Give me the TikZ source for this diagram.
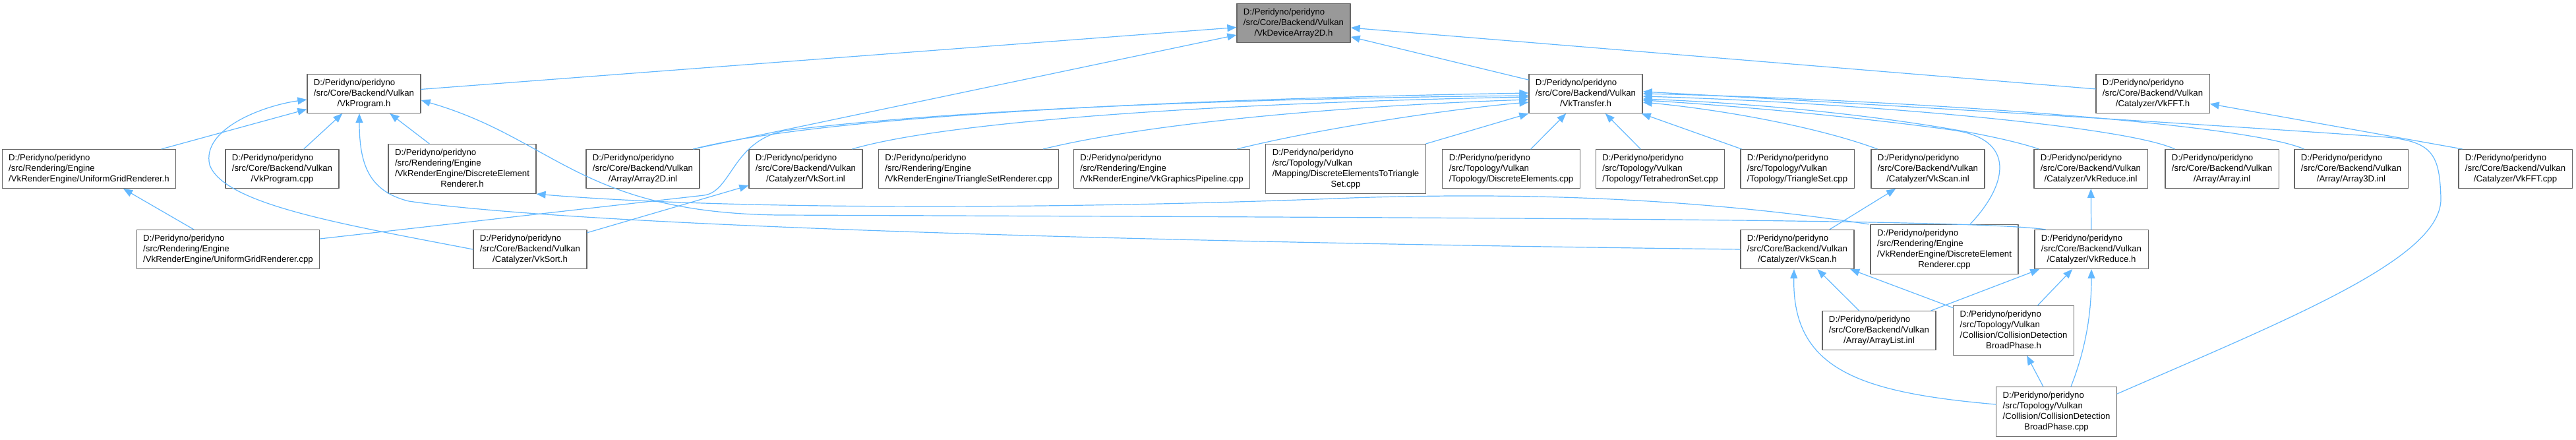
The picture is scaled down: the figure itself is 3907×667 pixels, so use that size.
\documentclass[tikz,border=0pt]{standalone}
\usepackage{fontspec}
\setmainfont{Liberation Sans}
\usepackage{tikz}
\usetikzlibrary{arrows.meta}

\definecolor{edgeblue}{HTML}{63B8FF}
\definecolor{boxline}{HTML}{666666}
\definecolor{focusfill}{HTML}{999999}
\newcommand{\fname}[1]{\begin{tabular}{@{}l@{}}#1\end{tabular}}
\newcommand{\lastrow}[1]{\multicolumn{1}{@{}c@{}}{#1}}

\begin{document}
\begin{tikzpicture}[
			x=0.5pt, y=-0.5pt,
			every node/.style={font=\fontsize{6.6}{8}\selectfont},
			file/.style={draw=boxline, fill=white, line width=0.6pt, rectangle, inner xsep=5pt, inner ysep=2.75pt},
			focus/.style={file, fill=focusfill},
			dep/.style={draw=edgeblue, line width=0.6pt, -{Triangle[length=7pt, width=5.5pt]}},
			line cap=round,
			line join=round
			]
			\useasboundingbox (0,0) rectangle (3907,667);
			
			% top file
			\node[focus] (n0) at (1962,35) {\fname{D:/Peridyno/peridyno\\ /src/Core/Backend/Vulkan\\ \lastrow{/VkDeviceArray2D.h}}};
			
			\node[file] (prog) at (552,142) {\fname{D:/Peridyno/peridyno\\ /src/Core/Backend/Vulkan\\ \lastrow{/VkProgram.h}}};
			\node[file] (xfer) at (2405,142) {\fname{D:/Peridyno/peridyno\\ /src/Core/Backend/Vulkan\\ \lastrow{/VkTransfer.h}}};
			\node[file] (fft) at (3265,142) {\fname{D:/Peridyno/peridyno\\ /src/Core/Backend/Vulkan\\ \lastrow{/Catalyzer/VkFFT.h}}};
			
			\node[file] (ugrh) at (135,256) {\fname{D:/Peridyno/peridyno\\ /src/Rendering/Engine\\ \lastrow{/VkRenderEngine/UniformGridRenderer.h}}};
			\node[file] (progcpp) at (428,256) {\fname{D:/Peridyno/peridyno\\ /src/Core/Backend/Vulkan\\ \lastrow{/VkProgram.cpp}}};
			\node[file] (derh) at (701,256) {\fname{D:/Peridyno/peridyno\\ /src/Rendering/Engine\\ /VkRenderEngine/DiscreteElement\\ \lastrow{Renderer.h}}};
			\node[file] (arr2d) at (975,256) {\fname{D:/Peridyno/peridyno\\ /src/Core/Backend/Vulkan\\ \lastrow{/Array/Array2D.inl}}};
			\node[file] (sortinl) at (1222,256) {\fname{D:/Peridyno/peridyno\\ /src/Core/Backend/Vulkan\\ \lastrow{/Catalyzer/VkSort.inl}}};
			\node[file] (trisetr) at (1469,256) {\fname{D:/Peridyno/peridyno\\ /src/Rendering/Engine\\ \lastrow{/VkRenderEngine/TriangleSetRenderer.cpp}}};
			\node[file] (gpipe) at (1762,256) {\fname{D:/Peridyno/peridyno\\ /src/Rendering/Engine\\ \lastrow{/VkRenderEngine/VkGraphicsPipeline.cpp}}};
			\node[file] (de2ts) at (2041,256) {\fname{D:/Peridyno/peridyno\\ /src/Topology/Vulkan\\ /Mapping/DiscreteElementsToTriangle\\ \lastrow{Set.cpp}}};
			\node[file] (decpp) at (2292,256) {\fname{D:/Peridyno/peridyno\\ /src/Topology/Vulkan\\ \lastrow{/Topology/DiscreteElements.cpp}}};
			\node[file] (tetcpp) at (2518,256) {\fname{D:/Peridyno/peridyno\\ /src/Topology/Vulkan\\ \lastrow{/Topology/TetrahedronSet.cpp}}};
			\node[file] (tricpp) at (2726,256) {\fname{D:/Peridyno/peridyno\\ /src/Topology/Vulkan\\ \lastrow{/Topology/TriangleSet.cpp}}};
			\node[file] (scaninl) at (2924,256) {\fname{D:/Peridyno/peridyno\\ /src/Core/Backend/Vulkan\\ \lastrow{/Catalyzer/VkScan.inl}}};
			\node[file] (reduceinl) at (3171,256) {\fname{D:/Peridyno/peridyno\\ /src/Core/Backend/Vulkan\\ \lastrow{/Catalyzer/VkReduce.inl}}};
			\node[file] (arrinl) at (3370,256) {\fname{D:/Peridyno/peridyno\\ /src/Core/Backend/Vulkan\\ \lastrow{/Array/Array.inl}}};
			\node[file] (arr3d) at (3566,256) {\fname{D:/Peridyno/peridyno\\ /src/Core/Backend/Vulkan\\ \lastrow{/Array/Array3D.inl}}};
			\node[file] (fftcpp) at (3815,256) {\fname{D:/Peridyno/peridyno\\ /src/Core/Backend/Vulkan\\ \lastrow{/Catalyzer/VkFFT.cpp}}};
			
			\node[file] (ugrcpp) at (346,378) {\fname{D:/Peridyno/peridyno\\ /src/Rendering/Engine\\ \lastrow{/VkRenderEngine/UniformGridRenderer.cpp}}};
			\node[file] (sorth) at (804,378) {\fname{D:/Peridyno/peridyno\\ /src/Core/Backend/Vulkan\\ \lastrow{/Catalyzer/VkSort.h}}};
			\node[file] (scanh) at (2726,378) {\fname{D:/Peridyno/peridyno\\ /src/Core/Backend/Vulkan\\ \lastrow{/Catalyzer/VkScan.h}}};
			\node[file] (dercpp) at (2949,378) {\fname{D:/Peridyno/peridyno\\ /src/Rendering/Engine\\ /VkRenderEngine/DiscreteElement\\ \lastrow{Renderer.cpp}}};
			\node[file] (reduceh) at (3172,378) {\fname{D:/Peridyno/peridyno\\ /src/Core/Backend/Vulkan\\ \lastrow{/Catalyzer/VkReduce.h}}};
			
			\node[file] (arrlist) at (2850,501) {\fname{D:/Peridyno/peridyno\\ /src/Core/Backend/Vulkan\\ \lastrow{/Array/ArrayList.inl}}};
			\node[file] (cdbph) at (3054,501) {\fname{D:/Peridyno/peridyno\\ /src/Topology/Vulkan\\ /Collision/CollisionDetection\\ \lastrow{BroadPhase.h}}};
			
			\node[file] (bpcpp) at (3119,624) {\fname{D:/Peridyno/peridyno\\ /src/Topology/Vulkan\\ /Collision/CollisionDetection\\ \lastrow{BroadPhase.cpp}}};
			
			% includes of VkDeviceArray2D.h
			\draw[dep] (prog) -- (n0);
			\draw[dep] ([xshift=-5pt]arr2d.north east) -- (n0);
			\draw[dep] (xfer) -- (n0);
			\draw[dep] (fft) -- (n0);
			
			% includes of VkProgram.h
			\draw[dep] (ugrh) -- (prog);
			\draw[dep] (progcpp) -- (prog);
			\draw[dep] (derh) -- (prog);
			\draw[dep] (sorth.west) .. controls (520,340) and (340,310) .. (318,250) .. controls (305,195) and (400,160) .. ([yshift=-4.5pt]prog.west);
			\draw[dep] (scanh.west) .. controls (1800,368) and (900,345) .. (620,305) .. controls (560,290) and (545,250) .. ([xshift=-3.5pt]prog.south);
			\draw[dep] ([xshift=8.5pt]reduceh.north west) .. controls (3000,332) and (2200,330) .. (1180,326) .. controls (880,322) and (840,210) .. ([yshift=-5pt]prog.east);
			
			% includes of VkTransfer.h
			\draw[dep] ([yshift=8pt]ugrcpp.east) -- (1068,296) .. controls (1110,290) and (1110,215) .. (1190,198) .. controls (1500,160) and (2000,148) .. ([yshift=-1.5pt]xfer.west);
			\draw[dep] ([xshift=-5pt]arr2d.north east) .. controls (1250,175) and (1800,150) .. ([yshift=0.5pt]xfer.west);
			\draw[dep] ([xshift=-8pt]sortinl.north east) .. controls (1450,180) and (1900,155) .. ([yshift=-2.5pt]xfer.west);
			\draw[dep] ([xshift=-12pt]trisetr.north east) .. controls (1750,185) and (2050,160) .. ([yshift=-4.5pt]xfer.west);
			\draw[dep] ([xshift=-10pt]gpipe.north east) .. controls (2000,195) and (2200,165) .. ([yshift=-6.5pt]xfer.west);
			\draw[dep] (de2ts.north east) -- (xfer.south west);
			\draw[dep] (decpp) -- (xfer);
			\draw[dep] (tetcpp) -- (xfer);
			\draw[dep] (tricpp) -- (xfer);
			\draw[dep] ([xshift=5pt]scaninl.north west) .. controls (2750,190) and (2600,165) .. ([yshift=-6.5pt]xfer.east);
			\draw[dep] ([xshift=4pt]reduceinl.north west) .. controls (3000,195) and (2750,160) .. ([yshift=-4pt]xfer.east);
			\draw[dep] ([xshift=7.5pt]arrinl.north west) .. controls (3220,190) and (2800,155) .. ([yshift=-2pt]xfer.east);
			\draw[dep] ([xshift=7.5pt]arr3d.north west) .. controls (3400,185) and (2850,150) .. (xfer.east);
			\draw[dep] ([xshift=19.5pt]dercpp.north) .. controls (3045,280) and (3060,210) .. (2960,197) .. controls (2800,175) and (2600,158) .. ([yshift=-5pt]xfer.east);
			\draw[dep] ([yshift=13.5pt]bpcpp.east) .. controls (3480,480) and (3705,390) .. (3702,300) .. controls (3700,235) and (3690,215) .. (3620,208) .. controls (3300,185) and (2700,150) .. ([yshift=1.5pt]xfer.east);
			
			% remaining includes
			\draw[dep] ([xshift=3pt]fftcpp.north west) -- (fft);
			\draw[dep] (ugrcpp) -- (ugrh);
			\draw[dep] ([xshift=-1pt]dercpp.north west) .. controls (2600,305) and (2350,290) .. (2050,300) .. controls (1600,318) and (1100,318) .. (derh.south east);
			\draw[dep] (sorth) -- (sortinl);
			\draw[dep] (scanh) -- (scaninl);
			\draw[dep] (reduceh) -- (reduceinl);
			\draw[dep] (arrlist) -- (scanh);
			\draw[dep] (arrlist) -- (reduceh);
			\draw[dep] (cdbph) -- (scanh);
			\draw[dep] (cdbph) -- (reduceh);
			\draw[dep] ([yshift=5.5pt]bpcpp.west) .. controls (2820,595) and (2718,560) .. ([xshift=-2.5pt]scanh.south);
			\draw[dep] (bpcpp) -- (cdbph);
			\draw[dep] ([xshift=11pt]bpcpp.north) .. controls (3165,525) and (3172,470) .. (reduceh.south);
		\end{tikzpicture}
\end{document}
